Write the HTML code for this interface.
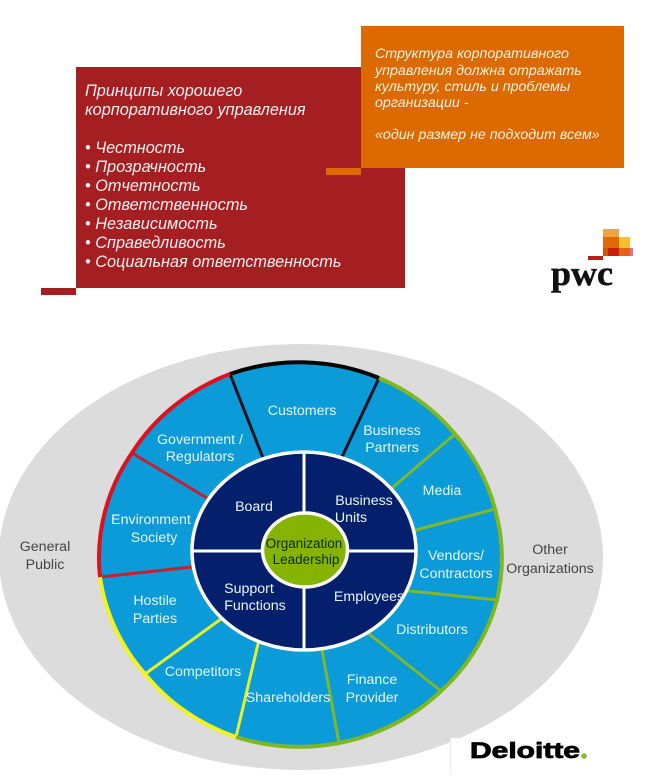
<!DOCTYPE html>
<html>
<head>
<meta charset="utf-8">
<style>
html,body{margin:0;padding:0;background:#fff;width:653px;height:781px;overflow:hidden}
svg{display:block}
text{font-family:"Liberation Sans",sans-serif}
.r{font-size:16.3px;font-style:italic;fill:#fbeeee}
.o{font-size:14.25px;font-style:italic;fill:#fdf2e6}
.w{font-size:14.2px;fill:#e6f5fb;text-anchor:middle}
.d{font-size:14.2px;fill:#444;text-anchor:middle}
.g{font-size:13.5px;fill:#0c2a12;text-anchor:middle}
</style>
</head>
<body>
<svg width="653" height="781" viewBox="0 0 653 781" xmlns="http://www.w3.org/2000/svg">
<rect width="653" height="781" fill="#fff"/>

<!-- Red box -->
<rect x="76" y="67" width="329" height="221" fill="#A51F22"/>
<rect x="41" y="288" width="35" height="7" fill="#A51F22"/>
<text class="r" x="85" y="96">Принципы хорошего</text>
<text class="r" x="85" y="115">корпоративного управления</text>
<text class="r" x="85" y="153">• Честность</text>
<text class="r" x="85" y="172">• Прозрачность</text>
<text class="r" x="85" y="191">• Отчетность</text>
<text class="r" x="85" y="210">• Ответственность</text>
<text class="r" x="85" y="229">• Независимость</text>
<text class="r" x="85" y="248">• Справедливость</text>
<text class="r" x="85" y="267">• Социальная ответственность</text>

<!-- Orange box -->
<rect x="361" y="26" width="263" height="142" fill="#DC6A00"/>
<rect x="326" y="168" width="35" height="7" fill="#DC6A00"/>
<text class="o" x="375" y="58">Структура корпоративного</text>
<text class="o" x="375" y="75">управления должна отражать</text>
<text class="o" x="375" y="91">культуру, стиль и проблемы</text>
<text class="o" x="375" y="107">организации -</text>
<text class="o" x="375" y="139">«один размер не подходит всем»</text>

<!-- PwC logo -->
<rect x="603" y="229" width="16" height="8" fill="#EFA53F"/>
<rect x="603" y="237" width="16" height="11" fill="#E26A06"/>
<rect x="619" y="237" width="11" height="11" fill="#F5C12E"/>
<rect x="603" y="248" width="5" height="8" fill="#D2540A"/>
<rect x="608" y="248" width="11" height="8" fill="#C4200C"/>
<rect x="619" y="248" width="11" height="8" fill="#E8601A"/>
<rect x="630" y="248" width="3" height="8" fill="#E06FA0"/>
<rect x="588" y="256" width="15" height="4" fill="#BE1E10"/>
<text x="551" y="285" textLength="62" lengthAdjust="spacingAndGlyphs" style="font-family:'Liberation Serif',serif;font-weight:bold;font-size:35px;fill:#111;stroke:#111;stroke-width:.5">pwc</text>

<!-- Gray ellipse -->
<ellipse cx="301" cy="557" rx="302" ry="213" fill="#DCDCDC"/>

<!-- Outer wheel fill -->
<path d="M100 577 A201 191 0 0 1 132 453 A201 191 0 0 1 230 374 A201 191 0 0 1 379 378 A201 191 0 0 1 455 434 A201 191 0 0 1 495 509 A201 191 0 0 1 497 600 A201 191 0 0 1 441 691 A201 191 0 0 1 339 743 A201 191 0 0 1 236 737 A201 191 0 0 1 145 674 A201 191 0 0 1 100 577 Z" fill="#0A9BD8"/>

<!-- Spokes -->
<g fill="none" stroke-width="3" stroke-linecap="round">
<path d="M230 374 L263 458 M379 378 L342 457" stroke="#08121f"/>
<path d="M132 453 L207 498 M100 577 L192 567" stroke="#C8202C"/>
<path d="M455 434 L392 488 M495 509 L416 530 M497 600 L410 591 M441 691 L369 634 M339 743 L322 650" stroke="#7FB82A"/>
<path d="M236 737 L258 644 M145 674 L221 619" stroke="#E6F02A"/>
</g>

<!-- Rim arcs -->
<g fill="none" stroke-width="4">
<path d="M100 577 A201 191 0 0 1 132 453 A201 191 0 0 1 230 374" stroke="#E0101E"/>
<path d="M230 374 A201 191 0 0 1 379 378" stroke="#050505"/>
<path d="M379 378 A201 191 0 0 1 455 434 A201 191 0 0 1 495 509 A201 191 0 0 1 497 600 A201 191 0 0 1 441 691 A201 191 0 0 1 339 743 A201 191 0 0 1 236 737" stroke="#7FB81E"/>
<path d="M236 737 A201 191 0 0 1 145 674 A201 191 0 0 1 100 577" stroke="#F2F21E"/>
</g>

<!-- Inner navy circle -->
<ellipse cx="304" cy="551" rx="112" ry="99" fill="#04206C" stroke="#fff" stroke-width="3.500"/>
<path d="M304 452 V650 M192 551 H416" stroke="#fff" stroke-width="3" fill="none"/>
<ellipse cx="305" cy="550" rx="42.500" ry="37" fill="#84B400" stroke="#fff" stroke-width="3.500"/>

<!-- Labels -->
<text class="w" x="302" y="415">Customers</text>
<text class="w" x="200" y="444">Government /</text>
<text class="w" x="200" y="461">Regulators</text>
<text class="w" x="151" y="524">Environment</text>
<text class="w" x="154" y="542">Society</text>
<text class="w" x="392" y="435">Business</text>
<text class="w" x="392" y="452">Partners</text>
<text class="w" x="442" y="495">Media</text>
<text class="w" x="456" y="560">Vendors/</text>
<text class="w" x="456" y="578">Contractors</text>
<text class="w" x="432" y="634">Distributors</text>
<text class="w" x="372" y="684">Finance</text>
<text class="w" x="372" y="702">Provider</text>
<text class="w" x="288" y="702">Shareholders</text>
<text class="w" x="203" y="676">Competitors</text>
<text class="w" x="155" y="605">Hostile</text>
<text class="w" x="155" y="623">Parties</text>
<text class="w" x="254" y="511">Board</text>
<text class="w" x="364" y="505">Business</text>
<text class="w" x="351" y="522">Units</text>
<text class="w" x="249" y="593">Support</text>
<text class="w" x="255" y="610">Functions</text>
<text class="w" x="369" y="601">Employees</text>
<text class="g" x="304" y="548">Organization</text>
<text class="g" x="306" y="564">Leadership</text>
<text class="d" x="45" y="551">General</text>
<text class="d" x="45" y="569">Public</text>
<text class="d" x="550" y="554">Other</text>
<text class="d" x="550" y="573">Organizations</text>

<!-- Deloitte -->
<rect x="450" y="738" width="203" height="43" fill="#fff"/>
<line x1="450.500" y1="738" x2="450.500" y2="775" stroke="#eee"/>
<text x="470" y="758" textLength="110" lengthAdjust="spacingAndGlyphs" style="font-weight:bold;font-size:22px;fill:#000;stroke:#000;stroke-width:.8">Deloitte</text>
<circle cx="584" cy="756" r="2.800" fill="#86BC25"/>
</svg>
</body>
</html>
